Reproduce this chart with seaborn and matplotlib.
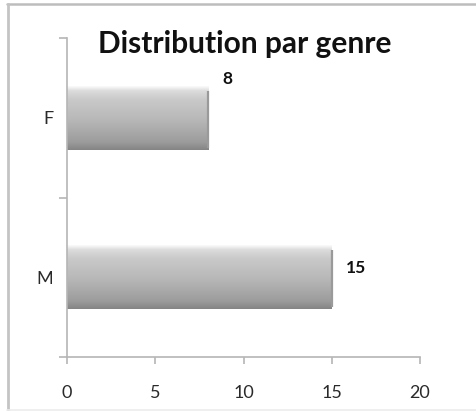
import numpy as np
import pandas as pd
import matplotlib
matplotlib.use("Agg")
import matplotlib.pyplot as plt
from matplotlib.lines import Line2D
from matplotlib.colors import LinearSegmentedColormap
import seaborn as sns

# Data
genres = ["F", "M"]
effectifs = [8, 15]
x_ticks = [0, 5, 10, 15, 20]
title = "Distribution par genre"

# Label offsets (points) beside each bar end
label_offsets = [(10, 28), (10, 7)]

df = pd.DataFrame({"genre": genres, "n": effectifs})

sns.set_theme(style="white")
plt.rcParams["font.family"] = ["Lato", "DejaVu Sans"]

fig = plt.figure(figsize=(4.77, 4.11), dpi=100)
ax = fig.add_axes([0.1405, 0.1314, 0.74, 0.7761])

sns.barplot(data=df, x="n", y="genre", order=genres, orient="h",
            width=0.4, color="#b0b0b0", edgecolor="none", ax=ax)

# Vertical grey gradient inside each bar, bright rim at the top, darker below
grad = LinearSegmentedColormap.from_list(
    "bevel", [(0.0, "#fbfbfb"), (0.07, "#dcdcdc"), (0.2, "#cacaca"),
              (0.55, "#b6b6b6"), (0.88, "#9c9c9c"), (1.0, "#858585")])
for patch in ax.patches:
    x0, y0 = patch.get_x(), patch.get_y()
    w, h = patch.get_width(), patch.get_height()
    g = np.linspace(0, 1, 128).reshape(-1, 1)
    im = ax.imshow(g, cmap=grad, aspect="auto",
                   extent=(x0, x0 + w, y0 + h, y0), origin="upper",
                   interpolation="bilinear", zorder=patch.get_zorder() + 0.1)
    im.set_clip_path(patch)
    patch.set_facecolor("none")
    # slightly darker right end of the bar
    ax.plot([x0 + w, x0 + w], [y0 + h * 0.08, y0 + h * 0.97],
            color="#9a9a9a", lw=1.6, zorder=patch.get_zorder() + 0.2,
            solid_capstyle="butt")

# Value labels beside each bar
for i, v in enumerate(effectifs):
    ax.annotate(str(v), xy=(v, i), xytext=label_offsets[i],
                textcoords="offset points", ha="left", va="center",
                fontsize=12.5, fontweight="bold", color="#111111")

ax.set_xlim(0, 20)
ax.set_ylim(1.5, -0.5)
ax.set_xticks(x_ticks)
ax.set_xticklabels([str(t) for t in x_ticks])
ax.set_yticks([-0.5, 0.5, 1.5])
ax.set_yticklabels([])
ax.set_yticks([0, 1], minor=True)
ax.set_yticklabels(genres, minor=True)
ax.set_xlabel("")
ax.set_ylabel("")

axis_col = "#b5b5b5"
for side in ["top", "right"]:
    ax.spines[side].set_visible(False)
for side in ["left", "bottom"]:
    ax.spines[side].set_color(axis_col)
    ax.spines[side].set_linewidth(1.2)

ax.tick_params(axis="x", which="major", direction="out", length=5, width=1.2,
               color=axis_col, labelsize=13, labelcolor="#2a2a2a", pad=15,
               bottom=True)
ax.tick_params(axis="y", which="major", direction="out", length=6, width=1.2,
               color=axis_col, left=True)
ax.tick_params(axis="y", which="minor", length=0, labelsize=13,
               labelcolor="#2a2a2a", pad=10, left=False)

fig.text(0.513, 0.893, title, ha="center", va="center", fontsize=21.5,
         fontweight="bold", color="#111111")

# Frame lines around the chart area
fig.add_artist(Line2D([0.015, 1.0], [0.99, 0.99], transform=fig.transFigure,
                      color="#bdbdbd", lw=1.8))
fig.add_artist(Line2D([0.016, 0.016], [0.0, 0.99], transform=fig.transFigure,
                      color="#c4c4c4", lw=2.0))
fig.add_artist(Line2D([0.015, 1.0], [0.003, 0.003], transform=fig.transFigure,
                      color="#ececec", lw=1.2))

fig.savefig("out.png", dpi=100)
